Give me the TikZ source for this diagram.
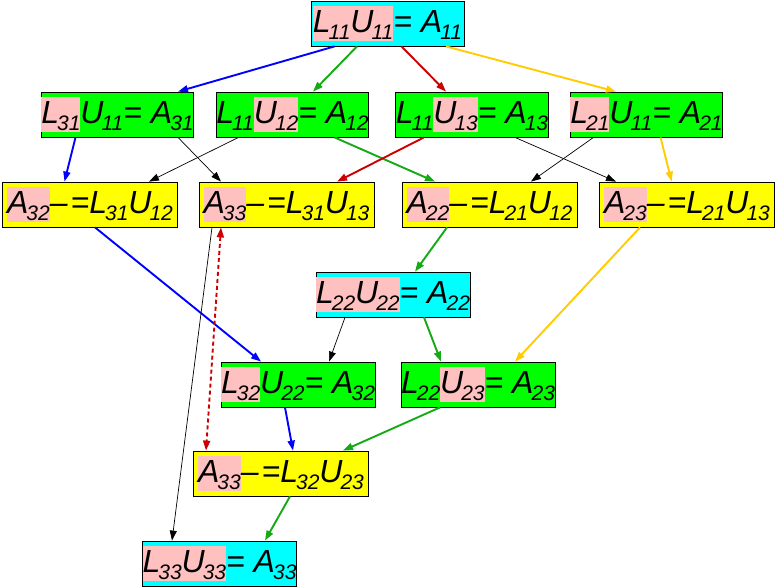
\documentclass[tikz,border=0pt]{standalone}
\usepackage{fontspec}
\setmainfont{Liberation Sans}
\usepackage{xcolor}
\usetikzlibrary{arrows.meta}
\definecolor{luCyan}{RGB}{0, 255, 255}
\definecolor{luGreen}{RGB}{0, 255, 0}
\definecolor{luYellow}{RGB}{255, 255, 0}
\definecolor{luPink}{RGB}{255, 192, 192}
\definecolor{luBlue}{RGB}{0, 0, 255}
\definecolor{luDkGreen}{RGB}{20, 170, 20}
\definecolor{luRed}{RGB}{204, 0, 0}
\definecolor{luGold}{RGB}{255, 204, 0}
\newcommand\sbs[1]{\kern-2pt\raisebox{-7pt}{\fontsize{21}{21}\selectfont #1}}
\newcommand\hlt[1]{{\setlength\fboxsep{0pt}\colorbox{luPink}{\rule[-9pt]{0pt}{35pt}#1}}}
\newcommand\mdash{–\kern3pt}
\tikzset{
  eqbox/.style={draw=black, line width=0.8pt, minimum height=45pt,
    inner ysep=5pt, inner xsep=0pt, text height=26pt, text depth=9pt,
    font=\fontsize{32}{32}\selectfont\itshape},
  cyanbox/.style={eqbox, fill=luCyan, minimum width=153pt},
  greenbox/.style={eqbox, fill=luGreen, minimum width=152pt},
  yellowbox/.style={eqbox, fill=luYellow, minimum width=175pt},
  tip/.style={-{Triangle[length=10pt, width=7pt]}},
  eblue/.style={tip, draw=luBlue, line width=1.9pt},
  egreen/.style={tip, draw=luDkGreen, line width=1.9pt},
  ered/.style={tip, draw=luRed, line width=1.9pt},
  egold/.style={tip, draw=luGold, line width=1.9pt},
  eblack/.style={tip, draw=black, line width=0.7pt},
}
\begin{document}
\begin{tikzpicture}[x=1pt, y=-1pt]
  \useasboundingbox (0, 0) rectangle (776, 587);
  % factor nodes
  \foreach \nm/\st/\x/\y/\txt in {%
    top/cyanbox/387.5/23.5/{\hlt{L\sbs{11}U\sbs{11}}= A\sbs{11}},%
    l31/greenbox/117.5/114.5/{\hlt{L\sbs{31}}U\sbs{11}= A\sbs{31}},%
    l12/greenbox/292.5/114.5/{L\sbs{11}\hlt{U\sbs{12}}= A\sbs{12}},%
    l13/greenbox/472/114.5/{L\sbs{11}\hlt{U\sbs{13}}= A\sbs{13}},%
    l21/greenbox/646.5/114.5/{\hlt{L\sbs{21}}U\sbs{11}= A\sbs{21}},%
    a32/yellowbox/90/204.5/{\hlt{A\sbs{32}}\mdash=L\sbs{31}U\sbs{12}},%
    a33a/yellowbox/286.5/204.5/{\hlt{A\sbs{33}}\mdash=L\sbs{31}U\sbs{13}},%
    a22/yellowbox/489.5/204.5/{\hlt{A\sbs{22}}\mdash=L\sbs{21}U\sbs{12}},%
    a23/yellowbox/687/204.5/{\hlt{A\sbs{23}}\mdash=L\sbs{21}U\sbs{13}},%
    l22/cyanbox/393/294.5/{\hlt{L\sbs{22}U\sbs{22}}= A\sbs{22}},%
    l32/greenbox/298/384.5/{\hlt{L\sbs{32}}U\sbs{22}= A\sbs{32}},%
    l23/greenbox/478/384.5/{L\sbs{22}\hlt{U\sbs{23}}= A\sbs{23}},%
    a33b/yellowbox/281/473.5/{\hlt{A\sbs{33}}\mdash=L\sbs{32}U\sbs{23}},%
    l33/cyanbox/219.5/563.5/{\hlt{L\sbs{33}U\sbs{33}}= A\sbs{33}}%
  }{%
    \node[\st] (\nm) at (\x, \y) {\txt};
  }
  % dependencies
  \foreach \fr/\dx/\to/\dy/\st in {%
    top/-53/l31/60.5/eblue, top/-30.5/l12/20.5/egreen,%
    top/14/l13/-26/ered, top/58.5/l21/-30.5/egold,%
    l31/-42/a32/-25.5/eblue, l31/60.5/a33a/-65.5/eblack,%
    l12/-54/a32/59/eblack, l12/42/a22/-54.5/egreen,%
    l13/-48/a33a/50.5/ered, l13/43/a23/-71/eblack,%
    l21/-53/a22/41.5/eblack, l21/14/a23/-15.3/egold,%
    a32/5/l32/-37/eblue, a22/-42.5/l22/22/egreen,%
    a23/-47/l23/37/egold, l22/-48/l32/31/eblack,%
    l22/31/l23/-37/egreen, l32/-13/a33b/12/eblue,%
    l23/-38/a33b/62/egreen, a33b/9/l33/45.5/egreen,%
    a33a/-74.5/l33/-47.5/eblack%
  }{%
    \draw[\st] ([xshift=\dx pt]\fr.south) -- ([xshift=\dy pt]\to.north);
  }
  \draw[luRed, line width=1.9pt, dash pattern=on 4pt off 3pt,
    {Triangle[length=10pt, width=7pt]}-{Triangle[length=10pt, width=7pt]}]
    ([xshift=-65.5pt]a33a.south) -- ([xshift=-75pt]a33b.north);
\end{tikzpicture}
\end{document}
